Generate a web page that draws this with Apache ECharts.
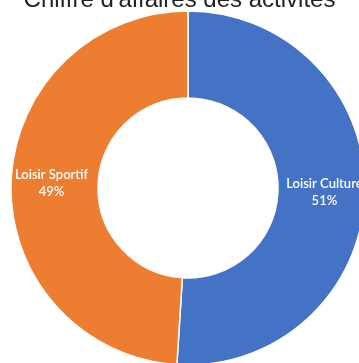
<!DOCTYPE html>
<html>
<head>
<meta charset="utf-8">
<script src="https://cdn.jsdelivr.net/npm/echarts@6/dist/echarts.min.js"></script>
<style>
  html, body { margin: 0; padding: 0; background: #fff; }
  #chart { width: 359px; height: 363px; }
</style>
</head>
<body>
<div id="chart"></div>
<script>
// Revenue share per activity
const categories = ['Loisir Culture', 'Loisir Sportif'];
const values = [51, 49];
const colors = ['#4472C4', '#ED7D31'];

const chart = echarts.init(document.getElementById('chart'), null, { renderer: 'canvas' });

chart.setOption({
  animation: false,
  title: {
    text: "Chiffre d'affaires des activités",
    left: 'center',
    top: -17,
    textStyle: {
      fontFamily: 'Liberation Sans',
      fontSize: 24,
      fontWeight: 'normal',
      color: '#222'
    }
  },
  series: [{
    type: 'pie',
    center: [188, 188],
    radius: [90, 177],
    startAngle: 90,
    clockwise: true,
    label: {
      show: true,
      position: 'inside',
      formatter: '{b}\n{d}%',
      color: '#fff',
      fontFamily: 'Lato',
      fontSize: 13,
      fontWeight: 600,
      lineHeight: 17
    },
    labelLine: { show: false },
    itemStyle: { borderColor: '#fff', borderWidth: 1.5 },
    data: categories.map((name, i) => ({
      name,
      value: values[i],
      itemStyle: { color: colors[i] }
    }))
  }]
});
</script>
</body>
</html>
